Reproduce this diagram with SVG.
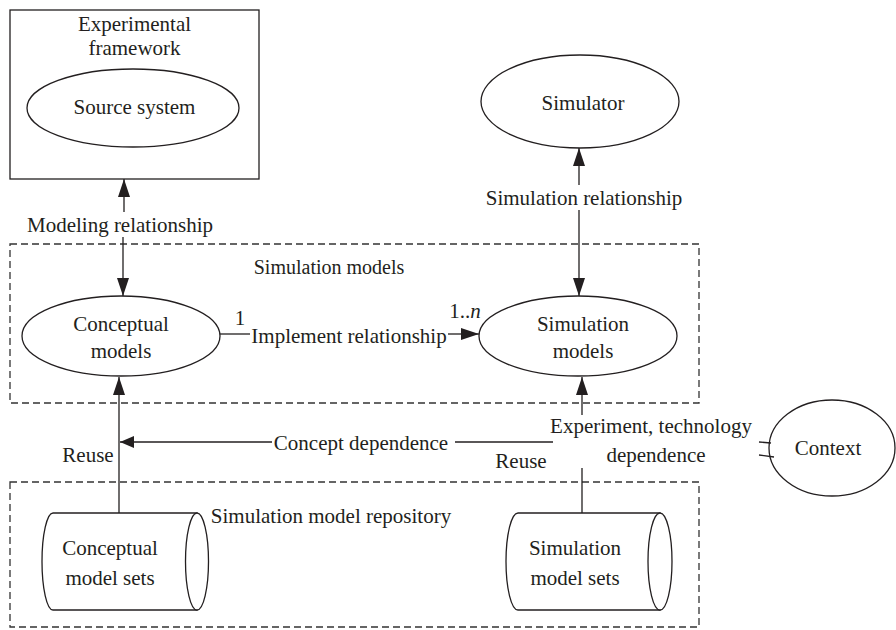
<svg xmlns="http://www.w3.org/2000/svg" width="896" height="630" viewBox="0 0 896 630">
<defs>
<style>
text{font-family:"Liberation Serif","Times New Roman",serif;font-size:21px;fill:#231f20;text-anchor:middle}
.sh{fill:#fff;stroke:#231f20;stroke-width:1.3}
.dash{fill:none;stroke:#333;stroke-width:1.3;stroke-dasharray:7 4}
.ln{fill:none;stroke:#231f20;stroke-width:1.3}
</style>
<marker id="ah" markerUnits="userSpaceOnUse" markerWidth="18" markerHeight="12" refX="18" refY="6" orient="auto">
<path d="M0,0 L18,6 L0,12 Z" fill="#231f20"/>
</marker>
<marker id="ahs" markerUnits="userSpaceOnUse" markerWidth="14" markerHeight="12" refX="14" refY="6" orient="auto">
<path d="M0,0 L14,6 L0,12 Z" fill="#231f20"/>
</marker>
</defs>
<rect width="896" height="630" fill="#fff"/>
<g id="simulation-models-group">
<rect class="dash" x="10" y="244" width="689" height="159"/>
<text x="329" y="274" style="font-size:20px">Simulation models</text>
</g>
<g id="repository-group">
<rect class="dash" x="10" y="482" width="689" height="145"/>
<text x="331" y="523">Simulation model repository</text>
</g>
<g id="experimental-framework">
<rect class="sh" x="10" y="10" width="249" height="169"/>
<text x="134.5" y="31">Experimental</text>
<text x="134.5" y="55">framework</text>
</g>
<g id="source-system">
<ellipse class="sh" cx="133" cy="108" rx="106" ry="39"/>
<text x="134.5" y="114">Source system</text>
</g>
<g id="simulator">
<ellipse class="sh" cx="580" cy="101.5" rx="99" ry="46.5"/>
<text x="583" y="110">Simulator</text>
</g>
<g id="conceptual-models">
<ellipse class="sh" cx="121" cy="336" rx="99" ry="40"/>
<text x="121" y="331">Conceptual</text>
<text x="121" y="358">models</text>
</g>
<g id="simulation-models">
<ellipse class="sh" cx="578" cy="336" rx="99" ry="40"/>
<text x="583" y="331">Simulation</text>
<text x="583" y="358">models</text>
</g>
<g id="context">
<ellipse class="sh" cx="832" cy="448" rx="63" ry="48"/>
<text x="828" y="455">Context</text>
</g>
<g id="conceptual-model-sets">
<path class="sh" d="M53,513 L197,513 L197,610 L53,610 A11,48.5 0 0 1 53,513 Z"/>
<ellipse class="sh" cx="197" cy="561.5" rx="11.5" ry="48.5"/>
<text x="110" y="555">Conceptual</text>
<text x="110" y="585">model sets</text>
</g>
<g id="simulation-model-sets">
<path class="sh" d="M518,513 L660,513 L660,610 L518,610 A12,48.5 0 0 1 518,513 Z"/>
<ellipse class="sh" cx="660" cy="561.5" rx="12" ry="48.5"/>
<text x="575" y="555">Simulation</text>
<text x="575" y="585">model sets</text>
</g>
<g id="connectors">
<line class="ln" x1="124" y1="212" x2="124" y2="179" marker-end="url(#ah)"/>
<line class="ln" x1="123" y1="237" x2="123" y2="296" marker-end="url(#ah)"/>
<text x="120" y="232">Modeling relationship</text>
<line class="ln" x1="579" y1="185" x2="579" y2="148" marker-end="url(#ah)"/>
<line class="ln" x1="579" y1="210" x2="579" y2="296" marker-end="url(#ah)"/>
<text x="584" y="205">Simulation relationship</text>
<line class="ln" x1="220" y1="334" x2="250" y2="334"/>
<line class="ln" x1="448" y1="334" x2="479" y2="334" marker-end="url(#ah)"/>
<text x="349" y="343">Implement relationship</text>
<text x="240" y="325">1</text>
<text x="465" y="318">1..<tspan font-style="italic">n</tspan></text>
<line class="ln" x1="119" y1="513" x2="119" y2="377" marker-end="url(#ah)"/>
<text x="88" y="462">Reuse</text>
<line class="ln" x1="272" y1="442" x2="120" y2="442" marker-end="url(#ahs)"/>
<line class="ln" x1="455" y1="442" x2="553" y2="442"/>
<text x="361" y="450">Concept dependence</text>
<line class="ln" x1="582" y1="513" x2="582" y2="468"/>
<line class="ln" x1="582" y1="415" x2="582" y2="377" marker-end="url(#ah)"/>
<text x="521" y="468">Reuse</text>
<text x="651" y="433">Experiment, technology</text>
<text x="656" y="462">dependence</text>
<line class="ln" x1="759" y1="442" x2="771" y2="443"/>
<line class="ln" x1="759" y1="455" x2="774" y2="457"/>
</g>
</svg>
